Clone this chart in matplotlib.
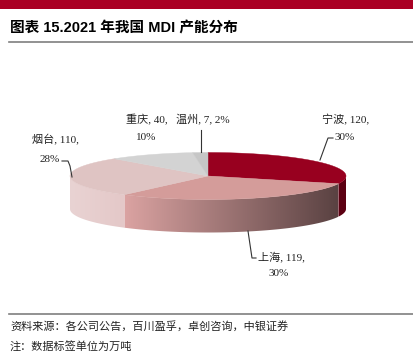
"""
2021 年我国 MDI 产能分布 (3D 饼图)
"""

import numpy as np
import matplotlib.pyplot as plt
from matplotlib.patches import Polygon
from matplotlib.colors import LinearSegmentedColormap

# ── 数据 ──────────────────────────────────────────────────
CITIES = ["宁波", "上海", "烟台", "重庆", "温州"]
CAPACITY = [120, 119, 110, 40, 7]
PCT_LABELS = ["30%", "30%", "28%", "10%", "2%"]

TOP_COLORS = ["#98001F", "#D49C9A", "#DFC4C3", "#D3D3D3", "#C6C6C6"]
SIDE_COLORS = [("#5C0012", "#5C0012"), ("#DBA3A2", "#5A4242"),
               ("#E9D3D3", "#E4C8C8"), ("#C8C8C8", "#C8C8C8"),
               ("#BBBBBB", "#BBBBBB")]

CJK = ["Liberation Serif", "Noto Sans CJK SC", "DejaVu Sans"]
plt.rcParams["font.family"] = CJK

W, H = 413, 363
fig = plt.figure(figsize=(W / 100, H / 100), dpi=100)
ax = fig.add_axes([0, 0, 1, 1])
ax.set_xlim(0, W); ax.set_ylim(H, 0)
ax.axis("off")

# ── 页眉/页脚 ───────────────────────────────────────────────
ax.fill_between([0, W], 0, 9, color="#AA0024", lw=0)
ax.text(10, 28, "图表 15.2021 年我国 MDI 产能分布", fontsize=10.5,
        fontweight="bold", va="center", ha="left",
        family=["Liberation Sans", "Noto Sans CJK SC"])
ax.plot([9, W], [42, 42], color="#7F7F7F", lw=1.2)
ax.plot([9, W], [314, 314], color="#7F7F7F", lw=1.2)
ax.text(10, 326, "资料来源：各公司公告，百川盈孚，卓创咨询，中银证券",
        fontsize=8, va="center", family=["Noto Sans CJK SC"], color="#222222")
ax.text(10, 347, "注：数据标签单位为万吨", fontsize=8, va="center",
        family=["Noto Sans CJK SC"], color="#222222")

# ── 3D 饼图 ───────────────────────────────────────────────
cx, cy, a, b, h = 208, 176, 138, 23.5, 33
vals = np.array(CAPACITY, dtype=float)
edges = np.concatenate([[0], np.cumsum(vals) / vals.sum() * 360])


def pt(theta_deg, dy=0.0):
    t = np.radians(theta_deg)
    return cx + a * np.sin(t), cy - b * np.cos(t) + dy


# 侧面 (前半部分 90°–270°)
for i in range(len(vals)):
    t0, t1 = max(edges[i], 90), min(edges[i + 1], 270)
    if t1 <= t0:
        continue
    th = np.linspace(t0, t1, 80)
    xs, ys = pt(th)
    verts = np.concatenate([np.column_stack([xs, ys]),
                            np.column_stack([xs[::-1], ys[::-1] + h])])
    poly = Polygon(verts, closed=True, facecolor="none", edgecolor="none")
    ax.add_patch(poly)
    c_left, c_right = SIDE_COLORS[i]
    cmap = LinearSegmentedColormap.from_list(f"s{i}", [c_left, c_right])
    x0, x1 = xs.min(), xs.max()
    im = ax.imshow(np.linspace(0, 1, 256)[None, :], cmap=cmap, aspect="auto",
                   extent=(x0, x1, cy + b + h + 2, cy - b - 2), zorder=1)
    im.set_clip_path(poly)

# 顶面
for i in range(len(vals)):
    th = np.linspace(edges[i], edges[i + 1], 120)
    xs, ys = pt(th)
    verts = np.vstack([[cx, cy], np.column_stack([xs, ys])])
    ax.add_patch(Polygon(verts, closed=True, facecolor=TOP_COLORS[i],
                         edgecolor=TOP_COLORS[i], lw=0.3, zorder=2))

ax.set_xlim(0, W); ax.set_ylim(H, 0)

# ── 数据标签 ───────────────────────────────────────────────
lab = dict(fontsize=8, color="#222222", ha="center", va="center", zorder=5)
line = dict(color="#333333", lw=0.8, zorder=4)

ax.text(346, 120, f"{CITIES[0]}, {CAPACITY[0]},", **lab)
ax.text(345, 138, PCT_LABELS[0], **lab)
ax.plot([333, 328, 320], [138, 138, 160], **line)

ax.text(281, 257, f"{CITIES[1]}, {CAPACITY[1]},", **lab)
ax.text(279, 274, PCT_LABELS[1], **lab)
ax.plot([248, 252, 256], [231, 258, 258], **line)

ax.text(55, 140, f"{CITIES[2]}, {CAPACITY[2]},", **lab)
ax.text(50, 160, PCT_LABELS[2], **lab)
ax.plot([62, 68, 70, 72], [161, 161, 166, 177], **line)

ax.text(147, 120, f"{CITIES[3]}, {CAPACITY[3]},", **lab)
ax.text(146, 138, PCT_LABELS[3], **lab)

ax.text(203, 120, f"{CITIES[4]}, {CAPACITY[4]}, {PCT_LABELS[4]}", **lab)
ax.plot([201, 201], [130, 152], **line)

fig.savefig("out.png", dpi=100)
